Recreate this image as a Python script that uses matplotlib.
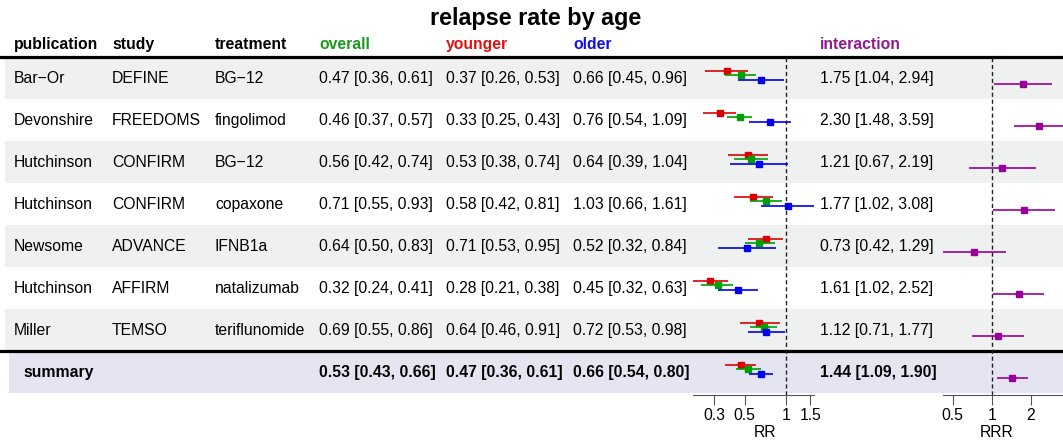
import matplotlib.pyplot as plt
import numpy as np

plt.rcParams['font.family'] = ['Liberation Sans', 'DejaVu Sans']

publication = ['Bar\u2212Or', 'Devonshire', 'Hutchinson', 'Hutchinson', 'Newsome', 'Hutchinson', 'Miller']
study = ['DEFINE', 'FREEDOMS', 'CONFIRM', 'CONFIRM', 'ADVANCE', 'AFFIRM', 'TEMSO']
treatment = ['BG\u221212', 'fingolimod', 'BG\u221212', 'copaxone', 'IFNB1a', 'natalizumab', 'teriflunomide']

# estimate, lower, upper (last entry = summary)
overall = [(0.47, 0.36, 0.61), (0.46, 0.37, 0.57), (0.56, 0.42, 0.74), (0.71, 0.55, 0.93),
           (0.64, 0.50, 0.83), (0.32, 0.24, 0.41), (0.69, 0.55, 0.86), (0.53, 0.43, 0.66)]
younger = [(0.37, 0.26, 0.53), (0.33, 0.25, 0.43), (0.53, 0.38, 0.74), (0.58, 0.42, 0.81),
           (0.71, 0.53, 0.95), (0.28, 0.21, 0.38), (0.64, 0.46, 0.91), (0.47, 0.36, 0.61)]
older = [(0.66, 0.45, 0.96), (0.76, 0.54, 1.09), (0.64, 0.39, 1.04), (1.03, 0.66, 1.61),
         (0.52, 0.32, 0.84), (0.45, 0.32, 0.63), (0.72, 0.53, 0.98), (0.66, 0.54, 0.80)]
interaction = [(1.75, 1.04, 2.94), (2.30, 1.48, 3.59), (1.21, 0.67, 2.19), (1.77, 1.02, 3.08),
               (0.73, 0.42, 1.29), (1.61, 1.02, 2.52), (1.12, 0.71, 1.77), (1.44, 1.09, 1.90)]

rr_ticks = [0.3, 0.5, 1, 1.5]
rrr_ticks = [0.5, 1, 2]

W, H = 1063, 442
fig = plt.figure(figsize=(W / 100, H / 100), dpi=100)

# row i center sits at pixel y = y0 + rh * i
y0, rh = 78.2, 42.0
def row(ypix):
    return (ypix - y0) / rh

ax = fig.add_axes([0, 0, 1, 1])
ax.set_xlim(0, W)
ax.set_ylim(row(H), row(0))
ax.axis('off')

n = len(publication)
gray = '#eef1f0'
lav = '#e5e5f1'
for i in range(n + 1):
    if i == n:
        ax.axhspan(i - 0.5, i + 0.5, xmin=9 / W, xmax=1, color=lav, lw=0)
    elif i % 2 == 0:
        ax.axhspan(i - 0.5, i + 0.5, xmin=5 / W, xmax=1, color=gray, lw=0)
ax.axhline(-0.5, color='black', lw=2.3)
ax.axhline(n - 0.5, color='black', lw=2.3)

c_green, c_red, c_blue, c_purple = '#1a9a1a', '#dd1111', '#1111dd', '#8e1a8e'
m_green, m_red, m_blue, m_purple = '#00a000', '#dd0000', '#0000ee', '#990099'

fs = 11.3
ax.text(536, row(18), 'relapse rate by age', fontsize=16.8, fontweight='bold', ha='center', va='center')
hy = row(44)
cols = [(14, 'publication', 'black'), (112, 'study', 'black'), (215, 'treatment', 'black'),
        (319, 'overall', c_green), (446, 'younger', c_red), (573, 'older', c_blue),
        (820, 'interaction', c_purple)]
for x, t, c in cols:
    ax.text(x, hy, t, fontsize=fs, fontweight='bold', color=c, ha='left', va='center')

def fmt(v):
    return '%.2f [%.2f, %.2f]' % v

for i in range(n + 1):
    w = 'bold' if i == n else 'normal'
    if i < n:
        ax.text(14, i, publication[i], fontsize=fs, va='center')
        ax.text(112, i, study[i], fontsize=fs, va='center')
        ax.text(215, i, treatment[i], fontsize=fs, va='center')
    else:
        ax.text(23, i, 'summary', fontsize=fs, va='center', fontweight='bold')
    ax.text(319, i, fmt(overall[i]), fontsize=fs, va='center', fontweight=w)
    ax.text(446, i, fmt(younger[i]), fontsize=fs, va='center', fontweight=w)
    ax.text(573, i, fmt(older[i]), fontsize=fs, va='center', fontweight=w)
    ax.text(820, i, fmt(interaction[i]), fontsize=fs, va='center', fontweight=w)

# forest panels
top_pix, bot_pix = 57, 395

def forest_axes(x_left, x_right, one_pix, px_dec):
    a = fig.add_axes([x_left / W, 1 - bot_pix / H, (x_right - x_left) / W, (bot_pix - top_pix) / H])
    a.set_xscale('log')
    a.set_xlim(10 ** ((x_left - one_pix) / px_dec), 10 ** ((x_right - one_pix) / px_dec))
    a.set_ylim(row(bot_pix), row(top_pix))
    a.patch.set_alpha(0)
    for s in ['top', 'left', 'right']:
        a.spines[s].set_visible(False)
    a.set_yticks([])
    a.minorticks_off()
    a.axvline(1, color='#222222', ls=(0, (3, 2)), lw=1)
    return a

def draw(a, data, off, col):
    for i, (e, lo, hi) in enumerate(data):
        a.plot([lo, hi], [i + off, i + off], color=col, lw=1.2, solid_capstyle='butt')
        a.plot([e], [i + off], marker='s', ms=4.8, color=col, mec=col)

axr = forest_axes(680, 850, 786, 137.7)
draw(axr, younger, -0.17, m_red)
draw(axr, overall, -0.067, m_green)
draw(axr, older, 0.035, m_blue)
allv = [v for d in (overall, younger, older) for e in d for v in e[1:]]
axr.spines['bottom'].set_bounds(min(allv), max(allv))
axr.set_xticks(rr_ticks)
axr.set_xticklabels([str(t) for t in rr_ticks])
axr.set_xlabel('RR', fontsize=fs, labelpad=2)

axi = forest_axes(930, 1063, 991.7, 129.6)
draw(axi, interaction, 0.133, m_purple)
axi.spines['bottom'].set_bounds(min(e[1] for e in interaction), max(e[2] for e in interaction))
axi.set_xticks(rrr_ticks)
axi.set_xticklabels([str(t) for t in rrr_ticks])
axi.set_xlabel('RRR', fontsize=fs, labelpad=2)

for a in (axr, axi):
    a.spines['bottom'].set_color('#555555')
    a.tick_params(axis='x', labelsize=fs, length=7, color='#555555', pad=2)

fig.savefig('out.png', dpi=100)
